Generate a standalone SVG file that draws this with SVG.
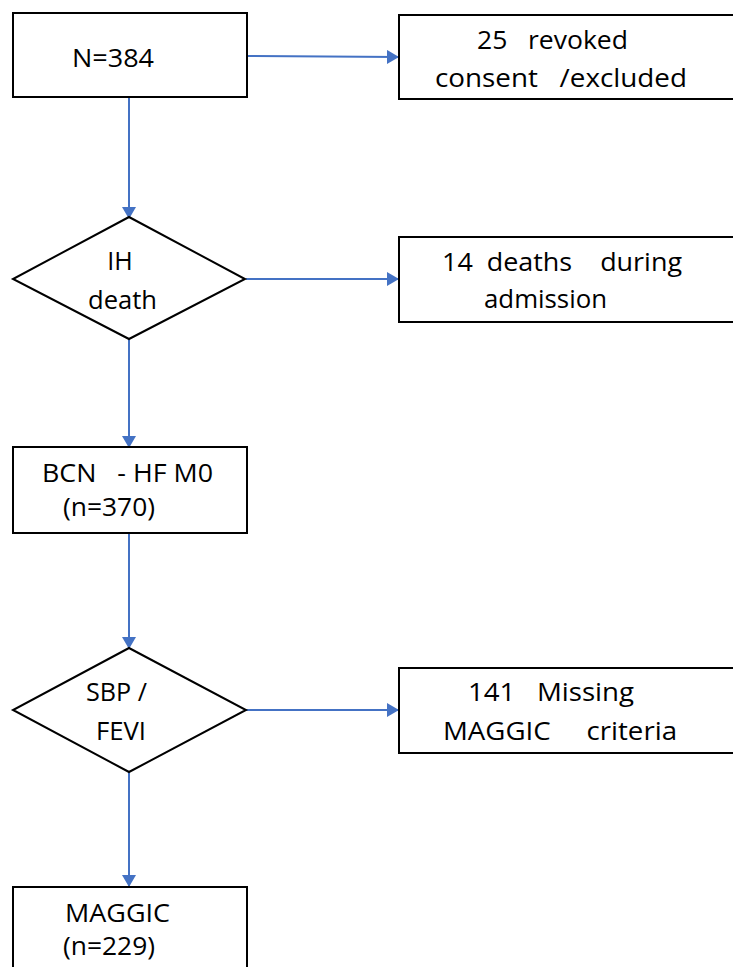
<svg xmlns="http://www.w3.org/2000/svg" width="733" height="967" viewBox="0 0 733 967">
<style>
.box{fill:#fff;stroke:#000;stroke-width:2}
.t{font-family:"Open Sans","Liberation Sans",sans-serif;font-size:25px;fill:#000}
.c{stroke:#4472C4;stroke-width:2;fill:none}
</style>
<defs>
<marker id="ah" markerWidth="12" markerHeight="14" viewBox="0 0 12 14" refX="11" refY="7" orient="auto" markerUnits="userSpaceOnUse">
<path d="M0,0 L12,7 L0,14 Z" fill="#4472C4"/>
</marker>
</defs>
<g id="connectors">
<line class="c" x1="247" y1="56" x2="398" y2="57" marker-end="url(#ah)"/>
<line class="c" x1="129" y1="97" x2="129" y2="218" marker-end="url(#ah)"/>
<line class="c" x1="246" y1="279" x2="398" y2="279" marker-end="url(#ah)"/>
<line class="c" x1="129" y1="339" x2="129" y2="447" marker-end="url(#ah)"/>
<line class="c" x1="129" y1="533" x2="129" y2="648" marker-end="url(#ah)"/>
<line class="c" x1="246" y1="710" x2="398" y2="710" marker-end="url(#ah)"/>
<line class="c" x1="129" y1="772" x2="129" y2="886" marker-end="url(#ah)"/>
</g>
<g id="n384">
<rect class="box" x="13" y="13" width="234" height="84"/>
<text class="t" x="72" y="67" textLength="82" lengthAdjust="spacingAndGlyphs">N=384</text>
</g>
<g id="revoked">
<rect class="box" x="399" y="15" width="340" height="84"/>
<text class="t" x="477" y="49" xml:space="preserve" textLength="151" lengthAdjust="spacingAndGlyphs">25   revoked</text>
<text class="t" x="435" y="87" xml:space="preserve" textLength="252" lengthAdjust="spacingAndGlyphs">consent   /excluded</text>
</g>
<g id="ihdeath">
<polygon class="box" points="129,217 245,279 129,339 13,279"/>
<text class="t" x="120" y="270" text-anchor="middle">IH</text>
<text class="t" x="88" y="309" textLength="69" lengthAdjust="spacingAndGlyphs">death</text>
</g>
<g id="deaths">
<rect class="box" x="399" y="237" width="340" height="85"/>
<text class="t" x="442" y="271" xml:space="preserve" textLength="240" lengthAdjust="spacingAndGlyphs">14  deaths    during</text>
<text class="t" x="484" y="308" textLength="123" lengthAdjust="spacingAndGlyphs">admission</text>
</g>
<g id="bcn">
<rect class="box" x="13" y="447" width="234" height="86"/>
<text class="t" x="42" y="482" xml:space="preserve" textLength="171" lengthAdjust="spacingAndGlyphs">BCN   - HF M0</text>
<text class="t" x="63" y="516" textLength="92" lengthAdjust="spacingAndGlyphs">(n=370)</text>
</g>
<g id="sbp">
<polygon class="box" points="129,648 246,710 129,772 13,710"/>
<text class="t" x="86" y="701" textLength="61" lengthAdjust="spacingAndGlyphs">SBP /</text>
<text class="t" x="96" y="740" textLength="50" lengthAdjust="spacingAndGlyphs">FEVI</text>
</g>
<g id="missing">
<rect class="box" x="399" y="668" width="340" height="85"/>
<text class="t" x="468" y="701" xml:space="preserve" textLength="166" lengthAdjust="spacingAndGlyphs">141   Missing</text>
<text class="t" x="443" y="740" xml:space="preserve" textLength="234" lengthAdjust="spacingAndGlyphs">MAGGIC     criteria</text>
</g>
<g id="maggic">
<rect class="box" x="13" y="887" width="234" height="90"/>
<text class="t" x="65" y="922" textLength="105" lengthAdjust="spacingAndGlyphs">MAGGIC</text>
<text class="t" x="63" y="955" textLength="92" lengthAdjust="spacingAndGlyphs">(n=229)</text>
</g>
</svg>
